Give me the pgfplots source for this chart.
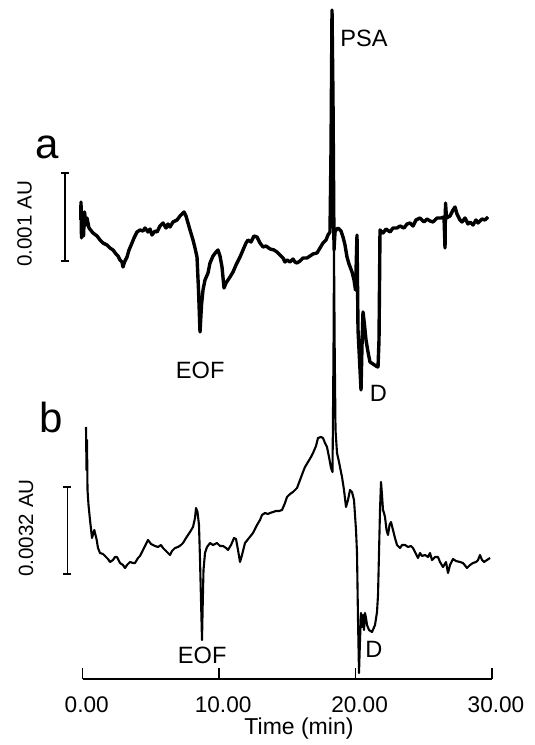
\documentclass[border=0pt]{standalone}
\usepackage{pgfplots}
\pgfplotsset{compat=1.18}
\usepackage{pgfplotstable}
\usepackage{fontspec}
\setmainfont{Liberation Sans}

% trace a: time (min) vs. displayed signal height (stacked, arbitrary units)
\pgfplotstableread{
t h
-0.147 525
-0.125 543
-0.088 507
-0.015 530
0.059 509
0.132 533
0.242 520
0.315 527
0.462 517
0.755 512
1.048 509
1.268 505
1.488 502
1.781 500
2.001 497
2.221 495
2.441 491
2.587 489
2.734 485
2.881 483
2.954 478
3.064 483
3.247 488
3.394 495
3.614 502
3.760 507
3.980 513
4.200 515
4.420 514
4.566 517
4.786 513
4.933 516
5.079 510
5.299 514
5.446 513
5.666 519
5.886 522
6.106 517
6.252 521
6.399 518
6.619 523
6.912 525
7.132 529
7.278 531
7.425 533
7.572 529
7.718 522
7.865 515
8.085 505
8.231 497
8.378 488
8.488 455
8.598 413
8.708 440
8.818 455
8.964 465
9.184 472
9.331 482
9.551 489
9.771 493
9.917 495
10.064 489
10.210 478
10.357 457
10.504 462
10.797 468
11.017 473
11.237 480
11.530 488
11.750 495
11.970 502
12.116 505
12.336 503
12.556 509
12.776 508
12.996 502
13.215 498
13.435 499
13.729 496
14.022 495
14.242 493
14.461 490
14.681 487
14.828 483
14.975 485
15.195 483
15.414 486
15.561 483
15.708 482
15.927 484
16.147 487
16.440 487
16.660 489
16.880 491
17.173 492
17.393 497
17.613 502
17.833 505
17.980 510
18.126 513
18.200 595
18.273 735
18.346 645
18.383 570
18.420 495
18.493 513
18.566 515
18.713 517
18.933 514
19.079 508
19.226 500
19.372 488
19.519 481
19.739 473
19.885 465
19.995 455
20.105 510
20.179 415
20.399 355
20.472 400
20.545 433
20.655 420
20.765 405
20.912 393
21.058 383
21.278 381
21.498 379
21.645 378
21.718 405
21.791 515
22.011 512
22.231 516
22.524 513
22.744 517
23.037 517
23.257 519
23.550 517
23.770 521
23.990 522
24.210 519
24.430 525
24.723 527
25.016 523
25.236 526
25.456 524
25.676 523
25.969 527
26.262 527
26.482 528
26.556 497
26.592 542
26.666 527
26.922 529
27.142 535
27.289 538
27.435 531
27.655 525
27.802 523
28.022 527
28.242 521
28.388 523
28.608 520
28.828 525
28.975 522
29.268 526
29.488 525
29.707 528
}\traceA

% trace b
\pgfplotstableread{
t h
0.242 318
0.279 275
0.315 305
0.352 255
0.425 240
0.535 225
0.682 207
0.850 215
1.026 205
1.121 197
1.268 192
1.488 191
1.635 189
1.854 186
2.001 183
2.221 185
2.367 188
2.514 188
2.734 182
2.954 180
3.100 177
3.247 180
3.467 183
3.687 182
3.833 182
4.053 187
4.200 189
4.347 193
4.566 199
4.786 205
5.006 201
5.299 199
5.519 198
5.739 200
5.886 197
6.106 194
6.252 192
6.399 190
6.545 194
6.765 197
6.985 198
7.205 200
7.352 202
7.572 207
7.718 210
7.865 213
8.085 218
8.231 227
8.305 237
8.414 233
8.524 220
8.598 185
8.671 145
8.744 105
8.803 145
8.854 175
8.964 192
9.111 198
9.331 202
9.551 200
9.844 202
10.064 199
10.284 199
10.504 197
10.650 195
10.870 200
11.090 207
11.237 206
11.383 195
11.530 183
11.677 190
11.896 202
12.189 207
12.482 212
12.776 220
12.996 225
13.142 230
13.362 232
13.582 231
13.729 232
13.948 233
14.168 234
14.388 234
14.608 235
14.828 242
14.975 248
15.195 251
15.414 253
15.708 257
15.927 265
16.147 273
16.294 278
16.514 283
16.734 288
16.880 292
17.100 299
17.247 307
17.466 308
17.613 307
17.760 302
17.906 298
18.053 288
18.200 277
18.310 273
18.383 395
18.420 495
18.471 395
18.530 315
18.640 292
18.786 283
18.933 273
19.006 268
19.152 255
19.299 238
19.446 245
19.592 255
19.739 253
19.885 245
20.032 215
20.105 192
20.179 125
20.252 72
20.325 105
20.399 132
20.472 118
20.545 130
20.619 115
20.692 132
20.765 127
20.839 120
20.985 115
21.205 113
21.425 120
21.571 133
21.645 150
21.718 192
21.791 235
21.865 263
21.938 250
22.011 235
22.084 232
22.158 228
22.268 215
22.378 210
22.488 220
22.597 223
22.744 215
22.891 207
23.037 200
23.257 197
23.404 200
23.624 200
23.844 198
24.063 199
24.210 197
24.357 193
24.577 187
24.723 192
24.870 189
25.090 190
25.310 188
25.456 192
25.603 185
25.823 188
26.042 188
26.189 183
26.409 178
26.629 183
26.775 172
26.922 180
27.142 186
27.362 184
27.655 183
27.875 182
28.168 177
28.388 180
28.608 182
28.828 183
28.975 185
29.121 190
29.268 185
29.414 183
29.634 185
29.854 187
}\traceB

\begin{document}
\begin{tikzpicture}
\useasboundingbox (0,0) rectangle (267.5pt,372.5pt);
\begin{axis}[
  at={(0,0)}, anchor=south west,
  scale only axis, width=267.5pt, height=372.5pt,
  xmin=-6.062, xmax=33.152, ymin=0, ymax=745,
  hide axis, clip=false,
]
\addplot[black, line width=1.7pt, line join=round] table[x=t, y=h] {\traceA};
\addplot[black, line width=1.05pt, line join=round] table[x=t, y=h] {\traceB};

% scale bars
\draw[black, line width=0.8pt] (axis cs:-1.590,572) -- (axis cs:-1.004,572)
  (axis cs:-1.297,572) -- (axis cs:-1.297,484)
  (axis cs:-1.590,484) -- (axis cs:-1.004,484);
\draw[black, line width=0.8pt] (axis cs:-1.422,258) -- (axis cs:-0.836,258)
  (axis cs:-1.129,258) -- (axis cs:-1.129,171)
  (axis cs:-1.422,171) -- (axis cs:-0.836,171);

% labels
\node[font=\fontsize{21}{24}\selectfont, anchor=base] at (axis cs:-2.58,586) {a};
\node[font=\fontsize{21}{24}\selectfont, anchor=base] at (axis cs:-2.32,312) {b};
\node[font=\fontsize{10.3}{12}\selectfont, rotate=90] at (axis cs:-4.27,521) {0.001 AU};
\node[font=\fontsize{10.3}{12}\selectfont, rotate=90] at (axis cs:-4.16,217) {0.0032 AU};
\node[font=\fontsize{11.8}{14}\selectfont, anchor=base] at (axis cs:20.62,698) {PSA};
\node[font=\fontsize{11.8}{14}\selectfont, anchor=base] at (axis cs:8.61,366) {EOF};
\node[font=\fontsize{11.8}{14}\selectfont, anchor=base] at (axis cs:21.68,343) {D};
\node[font=\fontsize{11.8}{14}\selectfont, anchor=base] at (axis cs:8.76,82) {EOF};
\node[font=\fontsize{11.8}{14}\selectfont, anchor=base] at (axis cs:21.35,87) {D};
\end{axis}

\begin{axis}[
  at={(41.35pt,33pt)}, anchor=south west,
  scale only axis, width=204.65pt, height=20pt,
  xmin=0, xmax=30, ymin=0, ymax=1,
  axis x line*=bottom, axis y line=none,
  axis line style={line width=0.8pt},
  xtick={0,10,20,30}, xticklabels={0.00,10.00,20.00,30.00},
  tick align=inside, major tick length=5.5pt,
  tick style={line width=0.8pt, black},
  xticklabel style={font=\fontsize{11.3}{13}\selectfont, anchor=base, yshift=-16.5pt, xshift=2pt},
  xlabel={Time (min)},
  xlabel style={font=\fontsize{11.5}{13}\selectfont, at={(axis description cs:0.5284,0)}, anchor=base, yshift=-27.5pt},
]
\end{axis}
\end{tikzpicture}
\end{document}
